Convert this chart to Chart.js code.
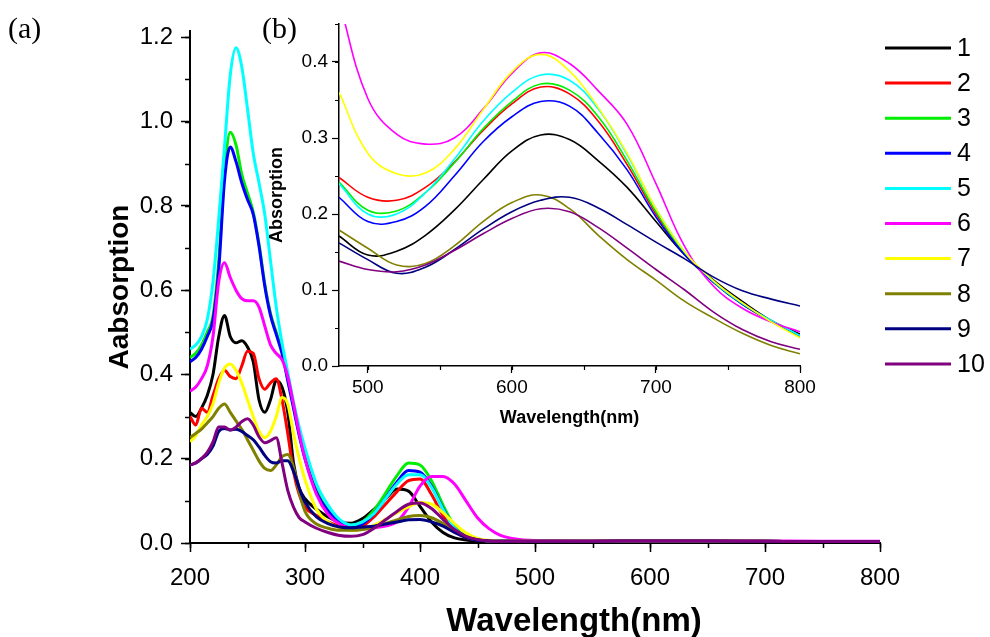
<!DOCTYPE html>
<html>
<head>
<meta charset="utf-8">
<script src="https://cdn.jsdelivr.net/npm/chart.js@4.4.1/dist/chart.umd.min.js"></script>
<style>
  body { margin: 0; background: #fff; }
  #wrap { position: relative; width: 990px; height: 637px; }
  canvas { position: absolute; top: 0; }
  .tag { position: absolute; font: 30px "Liberation Serif", "Times New Roman", serif; line-height: 1; color: #000; }
  #xtitle { position: absolute; left: 374px; width: 400px; top: 601px; text-align: center;
            font: bold 33px "Liberation Sans", Arial, sans-serif; line-height: 38px; color: #000; }
</style>
</head>
<body>
<div id="wrap">
  <canvas id="main" width="990" height="637" style="left:0"></canvas>
  <canvas id="inset" width="580" height="440" style="left:240px"></canvas>
  <div class="tag" style="left:8px;top:13px">(a)</div>
  <div class="tag" style="left:262px;top:13px">(b)</div>
  <div id="xtitle">Wavelength(nm)</div>
</div>
<script>
// main spectra, 200-800 nm
var wavelengths = [200,205,210,215,220,225,230,235,240,245,250,255,260,265,270,275,280,285,290,295,300,
  310,320,330,340,350,360,370,380,390,400,410,420,430,440,450,460,470,480,500,550,600,650,700,750,800];

var abs1 = [0.31,0.30,0.32,0.35,0.40,0.49,0.54,0.49,0.475,0.48,0.465,0.43,0.34,0.31,0.34,0.385,0.37,0.31,0.19,0.13,0.105,
  0.08,0.062,0.05,0.047,0.058,0.08,0.105,0.128,0.123,0.087,0.05,0.025,0.012,0.007,0.005,0.004,0.004,0.004,0.004,0.004,0.005,0.005,0.004,0.003,0.003];
var abs2 = [0.30,0.28,0.32,0.31,0.35,0.39,0.41,0.395,0.39,0.42,0.455,0.45,0.39,0.365,0.38,0.39,0.34,0.26,0.17,0.115,0.085,
  0.065,0.05,0.04,0.035,0.04,0.062,0.092,0.122,0.148,0.152,0.115,0.065,0.03,0.013,0.007,0.005,0.004,0.004,0.004,0.004,0.005,0.005,0.004,0.003,0.003];
var abs3 = [0.44,0.45,0.47,0.50,0.54,0.67,0.88,0.975,0.945,0.875,0.83,0.785,0.71,0.615,0.545,0.50,0.455,0.39,0.325,0.26,0.205,
  0.125,0.078,0.052,0.042,0.05,0.078,0.118,0.16,0.19,0.185,0.148,0.09,0.04,0.016,0.008,0.005,0.004,0.004,0.004,0.004,0.005,0.005,0.004,0.003,0.003];
var abs4 = [0.43,0.44,0.46,0.49,0.53,0.65,0.86,0.94,0.905,0.855,0.815,0.78,0.705,0.61,0.54,0.495,0.45,0.385,0.32,0.255,0.20,
  0.12,0.076,0.05,0.04,0.046,0.07,0.106,0.145,0.172,0.168,0.135,0.082,0.036,0.014,0.007,0.005,0.004,0.004,0.004,0.004,0.005,0.005,0.004,0.003,0.003];
var abs5 = [0.46,0.47,0.49,0.53,0.62,0.77,0.94,1.11,1.175,1.13,1.03,0.925,0.855,0.78,0.67,0.56,0.475,0.405,0.335,0.275,0.225,
  0.14,0.09,0.056,0.043,0.05,0.07,0.105,0.14,0.162,0.162,0.132,0.08,0.035,0.014,0.008,0.005,0.004,0.004,0.004,0.004,0.005,0.005,0.004,0.003,0.003];
var abs6 = [0.36,0.37,0.39,0.42,0.49,0.62,0.665,0.63,0.60,0.58,0.575,0.575,0.56,0.515,0.47,0.45,0.435,0.395,0.33,0.26,0.20,
  0.115,0.068,0.045,0.035,0.034,0.036,0.04,0.05,0.085,0.135,0.158,0.158,0.14,0.10,0.06,0.034,0.018,0.011,0.006,0.005,0.006,0.006,0.005,0.004,0.004];
var abs7 = [0.24,0.255,0.28,0.30,0.33,0.38,0.415,0.425,0.41,0.38,0.34,0.30,0.265,0.25,0.265,0.30,0.345,0.33,0.26,0.20,0.15,
  0.08,0.05,0.036,0.03,0.033,0.042,0.056,0.072,0.086,0.096,0.092,0.072,0.046,0.024,0.011,0.006,0.004,0.004,0.004,0.004,0.005,0.005,0.004,0.003,0.003];
var abs8 = [0.25,0.26,0.27,0.285,0.30,0.32,0.33,0.31,0.29,0.27,0.245,0.22,0.195,0.177,0.172,0.185,0.205,0.21,0.18,0.12,0.075,
  0.045,0.035,0.03,0.03,0.032,0.038,0.046,0.055,0.063,0.065,0.06,0.046,0.028,0.015,0.008,0.005,0.004,0.004,0.004,0.004,0.005,0.005,0.004,0.003,0.003];
var abs9 = [0.185,0.19,0.20,0.21,0.23,0.265,0.272,0.268,0.27,0.265,0.255,0.245,0.228,0.208,0.193,0.19,0.195,0.195,0.17,0.13,0.097,
  0.062,0.046,0.038,0.036,0.038,0.04,0.045,0.05,0.055,0.056,0.05,0.04,0.025,0.013,0.007,0.005,0.004,0.004,0.004,0.004,0.005,0.005,0.004,0.003,0.003];
var abs10 = [0.185,0.19,0.20,0.215,0.24,0.275,0.275,0.268,0.275,0.288,0.295,0.28,0.252,0.238,0.243,0.25,0.19,0.125,0.085,0.06,0.05,
  0.035,0.025,0.018,0.016,0.02,0.035,0.055,0.075,0.092,0.095,0.082,0.056,0.032,0.016,0.008,0.005,0.004,0.004,0.004,0.004,0.005,0.005,0.004,0.003,0.003];

// inset (b), 480-800 nm
var insetWavelengths = [480,500,520,540,560,580,600,620,640,660,680,700,720,740,760,780,800];
var inset1 = [0.171,0.146,0.151,0.172,0.205,0.245,0.283,0.304,0.298,0.27,0.235,0.19,0.146,0.113,0.085,0.06,0.042];
var inset2 = [0.248,0.222,0.218,0.235,0.268,0.31,0.345,0.367,0.358,0.322,0.265,0.20,0.147,0.11,0.081,0.059,0.04];
var inset3 = [0.242,0.205,0.204,0.228,0.267,0.312,0.348,0.371,0.363,0.328,0.27,0.203,0.148,0.11,0.081,0.059,0.039];
var inset4 = [0.222,0.19,0.19,0.21,0.25,0.295,0.328,0.348,0.342,0.306,0.258,0.196,0.146,0.11,0.081,0.059,0.04];
var inset5 = [0.24,0.20,0.20,0.228,0.272,0.322,0.36,0.383,0.376,0.338,0.278,0.207,0.15,0.111,0.082,0.06,0.04];
var inset6 = [0.48,0.352,0.305,0.292,0.30,0.338,0.385,0.412,0.398,0.362,0.318,0.24,0.157,0.105,0.076,0.058,0.045];
var inset7 = [0.36,0.28,0.253,0.254,0.285,0.337,0.387,0.41,0.388,0.34,0.28,0.207,0.15,0.112,0.083,0.058,0.037];
var inset8 = [0.179,0.155,0.133,0.135,0.158,0.19,0.215,0.225,0.207,0.172,0.14,0.113,0.085,0.063,0.043,0.027,0.016];
var inset9 = [0.162,0.14,0.122,0.13,0.153,0.18,0.203,0.218,0.222,0.208,0.186,0.163,0.141,0.117,0.099,0.088,0.079];
var inset10 = [0.138,0.127,0.124,0.133,0.152,0.174,0.194,0.207,0.203,0.182,0.155,0.127,0.10,0.071,0.048,0.032,0.022];

var seriesLabels = ["1","2","3","4","5","6","7","8","9","10"];
var seriesColors = ["#000000","#ff0000","#00ee00","#0000ff","#00ffff","#ff00ff","#ffff00","#808000","#000080","#800080"];

Chart.defaults.font.family = '"Liberation Sans", Arial, sans-serif';
Chart.defaults.color = "#000";

function makeSets(xs, series, width, smooth) {
    return series.map(function(vals, i) {
        var ds = {
            label: seriesLabels[i],
            data: vals.map(function(v, j) { return {x: xs[j], y: v}; }),
            borderColor: seriesColors[i],
            backgroundColor: seriesColors[i],
            borderWidth: width,
            pointRadius: 0,
            order: series.length - i
        };
        if (smooth) ds.tension = 0.4;
        else ds.cubicInterpolationMode = "monotone";
        return ds;
    });
}

// short ticks between the labelled ones
var minorTicks = {
    id: "minorTicks",
    afterDraw: function(chart, args, opts) {
        var ctx = chart.ctx, area = chart.chartArea;
        var sx = chart.scales.x, sy = chart.scales.y;
        ctx.save();
        ctx.strokeStyle = "#000";
        ctx.lineWidth = opts.width;
        ctx.beginPath();
        for (var k = Math.ceil(sx.min / opts.xStep - 1e-9); k * opts.xStep <= sx.max + 1e-9; k++) {
            var px = Math.round(sx.getPixelForValue(k * opts.xStep)) + 0.5;
            ctx.moveTo(px, area.bottom);
            ctx.lineTo(px, area.bottom + opts.len);
        }
        for (var m = Math.ceil(sy.min / opts.yStep - 1e-9); m * opts.yStep <= sy.max + 1e-9; m++) {
            var py = Math.round(sy.getPixelForValue(m * opts.yStep)) + 0.5;
            ctx.moveTo(area.left, py);
            ctx.lineTo(area.left - opts.len, py);
        }
        ctx.stroke();
        ctx.restore();
    }
};

// legend as short lines on the right
var lineLegend = {
    id: "lineLegend",
    afterDraw: function(chart) {
        var ctx = chart.ctx;
        ctx.save();
        ctx.font = '25px "Liberation Sans", Arial, sans-serif';
        ctx.textBaseline = "middle";
        chart.data.datasets.forEach(function(ds, i) {
            var y = 48 + i * 35.1;
            ctx.strokeStyle = ds.borderColor;
            ctx.lineWidth = 3;
            ctx.beginPath();
            ctx.moveTo(885, y);
            ctx.lineTo(951, y);
            ctx.stroke();
            ctx.fillStyle = "#000";
            ctx.fillText(ds.label, 957, y + 1);
        });
        ctx.restore();
    }
};

new Chart(document.getElementById("main").getContext("2d"), {
    type: "line",
    data: { datasets: makeSets(wavelengths, [abs1,abs2,abs3,abs4,abs5,abs6,abs7,abs8,abs9,abs10], 3, false) },
    options: {
        responsive: false,
        animation: false,
        layout: { padding: { left: 0, top: 31, right: 110, bottom: 0 } },
        plugins: {
            legend: { display: false },
            tooltip: { enabled: false },
            minorTicks: { xStep: 50, yStep: 0.1, len: 5, width: 1.5 }
        },
        scales: {
            x: {
                type: "linear", min: 200, max: 800,
                ticks: { stepSize: 100, font: { size: 24 }, padding: 12, maxRotation: 0 },
                grid: { drawOnChartArea: false, tickLength: 9, tickWidth: 1.5, tickColor: "#000" },
                border: { color: "#000", width: 2 },
                afterFit: function(s) { s.height = 94; }
            },
            y: {
                min: 0, max: 1.215,
                ticks: { stepSize: 0.2, includeBounds: false, font: { size: 24 }, padding: 8,
                         callback: function(v) { return v.toFixed(1); } },
                grid: { drawOnChartArea: false, tickLength: 9, tickWidth: 1.5, tickColor: "#000" },
                border: { color: "#000", width: 2 },
                title: { display: true, text: "Aabsorption", font: { size: 28, weight: "bold" }, padding: { top: 103 } },
                afterFit: function(s) { s.width = 190; }
            }
        }
    },
    plugins: [minorTicks, lineLegend]
});

new Chart(document.getElementById("inset").getContext("2d"), {
    type: "line",
    data: { datasets: makeSets(insetWavelengths, [inset1,inset2,inset3,inset4,inset5,inset6,inset7,inset8,inset9,inset10], 1.6, true) },
    options: {
        responsive: false,
        animation: false,
        layout: { padding: { left: 0, top: 24, right: 20, bottom: 0 } },
        plugins: {
            legend: { display: false },
            tooltip: { enabled: false },
            minorTicks: { xStep: 50, yStep: 0.05, len: 4, width: 1.2 }
        },
        scales: {
            x: {
                type: "linear", min: 480, max: 800,
                ticks: { stepSize: 100, includeBounds: false, font: { size: 19 }, padding: 3, maxRotation: 0 },
                grid: { drawOnChartArea: false, tickLength: 7, tickWidth: 1.2, tickColor: "#000" },
                border: { color: "#000", width: 1.5 },
                title: { display: true, text: "Wavelength(nm)", font: { size: 18, weight: "bold" }, padding: { bottom: 11 } },
                afterFit: function(s) { s.height = 74; }
            },
            y: {
                min: 0, max: 0.45,
                ticks: { stepSize: 0.1, includeBounds: false, font: { size: 19 }, padding: 4,
                         callback: function(v) { return v.toFixed(1); } },
                grid: { drawOnChartArea: false, tickLength: 7, tickWidth: 1.2, tickColor: "#000" },
                border: { color: "#000", width: 1.5 },
                title: { display: true, text: "Absorption", font: { size: 18, weight: "bold" }, padding: { top: 26 } },
                afterFit: function(s) { s.width = 99; }
            }
        }
    },
    plugins: [minorTicks]
});
</script>
</body>
</html>
